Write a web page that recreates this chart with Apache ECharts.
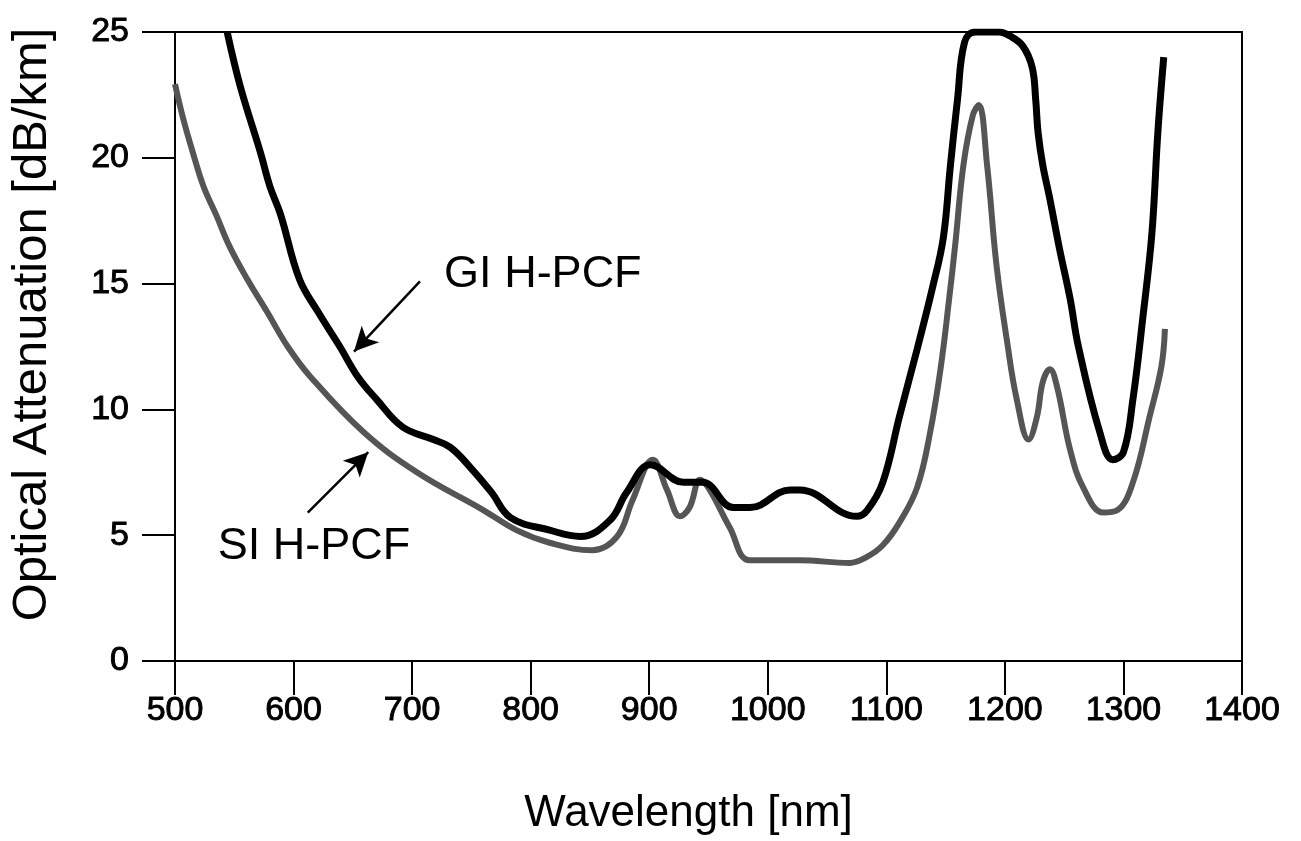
<!DOCTYPE html>
<html><head><meta charset="utf-8">
<script src="https://cdn.jsdelivr.net/npm/echarts@6/dist/echarts.min.js"></script>
<style>html,body{margin:0;padding:0;background:#fff}#c{width:1301px;height:841px}</style>
</head><body><div id="c"></div>
<script>
const xTicks = [500,600,700,800,900,1000,1100,1200,1300,1400];
const yTicks = [0,5,10,15,20,25];
const giX = [544,555,572,580,589,605,621,639,654,670,692,718,732,749,767,783,816,842,867,881,901,929,945,971,985,1019,1027,1075,1084,1097,1111,1126,1139,1148,1154,1160,1166,1175,1195,1204,1215,1223,1226,1228,1232,1238,1246,1255,1262,1280,1291,1300,1308,1316,1324,1329,1334];
const giY = [25,22.85,20.22,18.87,17.75,15.17,13.85,12.5,11.31,10.4,9.3,8.8,8.5,7.7,6.7,5.7,5.2,4.95,5.6,6.7,7.8,7.1,7.1,6.1,6.1,6.8,6.8,5.75,6.0,7.1,9.7,12.4,14.85,16.8,19.67,22.3,24.6,25.0,25.0,24.85,24.45,23.6,22.3,21.0,19.7,18.35,16.4,14.4,12.5,9.1,8.0,8.3,10.4,13.5,17.0,21.0,24.0];
const siX = [500,507,515,524,535,546,561,578,595,614,659,704,760,788,816,852,873,886,903,915,926,934,943,951,968,985,1027,1069,1084,1097,1111,1126,1137,1146,1153,1158,1165,1173,1178,1185,1193,1202,1210,1220,1227,1232,1238,1244,1255,1266,1283,1295,1308,1322,1332,1335];
const siY = [22.93,21.54,20.22,18.87,17.7,16.48,15.17,13.85,12.5,11.31,9.1,7.5,6.0,5.2,4.7,4.4,4.95,6.4,8.0,6.8,5.75,6.1,7.2,6.8,5.3,4.0,4.0,3.9,4.15,4.6,5.5,6.9,9.1,11.7,14.4,16.5,19.7,21.7,22.1,19.7,15.7,12.65,10.4,8.8,9.7,11.1,11.6,10.9,8.4,6.9,5.9,6.0,7.1,9.7,11.7,13.2];
const labels = [
  {name:'GI H-PCF', x:727, y:15.37},
  {name:'SI H-PCF', x:536, y:4.54}
];
const arrows = [
  {from:[706.6,15.09], to:[651,12.3]},
  {from:[612,5.9], to:[663,8.3]}
];
const zip = (a,b)=>a.map((v,i)=>[v,b[i]]);
const FONT = 'Liberation Sans';
const tickFont = {fontFamily:FONT,fontSize:34,color:'#000',textBorderColor:'#000',textBorderWidth:0.9};
const chart = echarts.init(document.getElementById('c'));
chart.setOption({
  animation:false,
  backgroundColor:'#fff',
  grid:{left:175,right:59,top:32,bottom:180,show:true,borderColor:'#000',borderWidth:2,backgroundColor:'transparent'},
  xAxis:{type:'value',min:500,max:1400,interval:100,
    name:'Wavelength [nm]',nameLocation:'middle',nameGap:131,
    nameTextStyle:{fontFamily:FONT,fontSize:44,color:'#000',padding:[0,40,0,0]},
    axisLine:{show:true,onZero:false,lineStyle:{color:'#000',width:2}},
    axisTick:{show:true,inside:false,length:34,lineStyle:{color:'#000',width:2}},
    axisLabel:Object.assign({margin:33,formatter:v=>xTicks.includes(v)?String(v):''},tickFont),
    splitLine:{show:false}},
  yAxis:{type:'value',min:0,max:25,interval:5,
    name:'Optical Attenuation [dB/km]',nameLocation:'middle',nameGap:118,
    nameTextStyle:{fontFamily:FONT,fontSize:49,color:'#000',padding:[0,0,0,44]},
    axisLine:{show:true,lineStyle:{color:'#000',width:2}},
    axisTick:{show:true,inside:false,length:33,lineStyle:{color:'#000',width:2}},
    axisLabel:Object.assign({margin:46,formatter:v=>yTicks.includes(v)?String(v):''},tickFont),
    splitLine:{show:false}},
  series:[
    {name:'SI H-PCF',type:'line',data:zip(siX,siY),showSymbol:false,smooth:0.4,
     lineStyle:{color:'#555',width:6},z:2},
    {name:'GI H-PCF',type:'line',data:zip(giX,giY),showSymbol:false,smooth:0.4,
     lineStyle:{color:'#000',width:7},z:3,
     markLine:{silent:true,symbol:['none','arrow'],symbolSize:[18,24],
       lineStyle:{color:'#000',width:2.5,type:'solid'},label:{show:false},
       data:arrows.map(a=>[{coord:a.from},{coord:a.to}])},
     markPoint:{silent:true,symbol:'circle',symbolSize:0,
       label:{show:true,position:'right',distance:0,fontFamily:FONT,fontSize:45,color:'#000',formatter:p=>p.name},
       data:labels.map(l=>({name:l.name,coord:[l.x,l.y]}))}}
  ]
});
</script></body></html>
